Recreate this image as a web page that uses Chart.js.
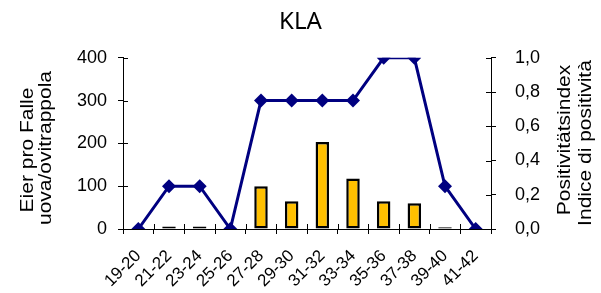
<!DOCTYPE html>
<html>
<head>
<meta charset="utf-8">
<script src="https://cdn.jsdelivr.net/npm/chart.js@4"></script>
<style>
  body { margin: 0; background: #fff; }
  #wrap { width: 601px; height: 293px; }
</style>
</head>
<body>
<div id="wrap"><canvas id="myChart"></canvas></div>
<script>
const categories = ['19-20', '21-22', '23-24', '25-26', '27-28', '29-30', '31-32', '33-34', '35-36', '37-38', '39-40', '41-42'];
const eggsPerTrap = [0, 6, 6, 0, 100, 65, 203, 118, 65, 60, 4, 0];
const positivityIndex = [0, 0.25, 0.25, 0, 0.75, 0.75, 0.75, 0.75, 1.0, 1.0, 0.25, 0];
const leftTicks = [0, 100, 200, 300, 400];
const rightTicks = [0, 0.2, 0.4, 0.6, 0.8, 1.0];
const leftTitle = ['Eier pro Falle', 'uova/ovitrappola'];
const rightTitle = ['Positivitätsindex', 'Indice di positività'];

const FONT = 'Liberation Sans, Arial, sans-serif';

// ticks that cross the axis lines (Chart.js only draws the outer half) + axis titles
const innerTicks = {
    id: 'innerTicks',
    afterDraw(chart) {
        const { ctx, chartArea } = chart;
        const x = chart.scales.x, y = chart.scales.y, y1 = chart.scales.y1;
        ctx.save();
        ctx.strokeStyle = '#000';
        ctx.lineWidth = 1;
        ctx.beginPath();
        for (let i = 0; i <= categories.length; i++) {
            const px = Math.round(x.getPixelForValue(i - 0.5)) + 0.5;
            ctx.moveTo(px, chartArea.bottom);
            ctx.lineTo(px, chartArea.bottom - 5);
        }
        leftTicks.forEach(v => {
            const py = Math.round(y.getPixelForValue(v)) + 0.5;
            ctx.moveTo(chartArea.left, py);
            ctx.lineTo(chartArea.left + 5, py);
        });
        rightTicks.forEach(v => {
            const py = Math.round(y1.getPixelForValue(v)) + 0.5;
            ctx.moveTo(chartArea.right, py);
            ctx.lineTo(chartArea.right - 5, py);
        });
        ctx.stroke();

        // axis titles, both reading bottom to top, slightly narrow like the original
        ctx.fillStyle = '#000';
        ctx.font = '21px ' + FONT;
        ctx.textAlign = 'center';
        ctx.textBaseline = 'middle';
        [[28, 150, leftTitle[0]], [46, 148, leftTitle[1]], [565, 140, rightTitle[0]], [586, 143, rightTitle[1]]].forEach(([tx, ty, t]) => {
            ctx.save();
            ctx.translate(tx, ty);
            ctx.rotate(-Math.PI / 2);
            ctx.scale(1, 0.88);
            ctx.fillText(t, 0, 0);
            ctx.restore();
        });
        ctx.restore();
    }
};

const ctx = document.getElementById('myChart').getContext('2d');
const myChart = new Chart(ctx, {
    type: 'bar',
    data: {
        labels: categories,
        datasets: [{
            type: 'line',
            label: 'Positivitätsindex',
            data: positivityIndex,
            yAxisID: 'y1',
            borderColor: '#000080',
            backgroundColor: '#000080',
            borderWidth: 3,
            pointStyle: 'rectRot',
            pointRadius: 7,
            pointBorderWidth: 0,
            tension: 0,
            order: 1
        }, {
            label: 'Eier pro Falle',
            data: eggsPerTrap,
            yAxisID: 'y',
            backgroundColor: '#FFC000',
            borderColor: '#000',
            borderWidth: 2.5,
            borderSkipped: false,
            inflateAmount: 0,
            categoryPercentage: 1,
            barPercentage: 0.44,
            order: 2
        }]
    },
    options: {
        responsive: true,
        maintainAspectRatio: false,
        animation: false,
        layout: { padding: 0 },
        plugins: {
            legend: { display: false },
            tooltip: { enabled: false },
            title: {
                display: true,
                text: 'KLA',
                color: '#000',
                font: { family: 'Noto Sans', size: 24, weight: 'normal', lineHeight: 1.2 },
                padding: { top: 8, bottom: 21 }
            }
        },
        scales: {
            x: {
                offset: true,
                grid: { display: true, drawOnChartArea: false, offset: true, tickLength: 5, color: '#000' },
                border: { display: true, color: '#000', width: 1 },
                ticks: {
                    color: '#000',
                    font: { family: FONT, size: 17 },
                    minRotation: 45,
                    maxRotation: 45,
                    padding: 12,
                    autoSkip: false
                },
                afterFit: s => { s.height = 64; }
            },
            y: {
                position: 'left',
                min: 0,
                max: 400,
                afterBuildTicks: s => { s.ticks = leftTicks.map(v => ({ value: v })); },
                grid: { display: true, drawOnChartArea: false, tickLength: 5, color: '#000' },
                border: { display: true, color: '#000', width: 1 },
                ticks: { color: '#000', font: { family: FONT, size: 18 }, padding: 11 },
                afterFit: s => { s.width = 123; }
            },
            y1: {
                position: 'right',
                min: 0,
                max: 1,
                afterBuildTicks: s => { s.ticks = rightTicks.map(v => ({ value: v })); },
                grid: { display: true, drawOnChartArea: false, tickLength: 5, color: '#000' },
                border: { display: true, color: '#000', width: 1 },
                ticks: {
                    color: '#000',
                    font: { family: FONT, size: 18 },
                    padding: 19,
                    callback: v => v.toFixed(1).replace('.', ',')
                },
                afterFit: s => { s.width = 110; }
            }
        }
    },
    plugins: [innerTicks]
});
</script>
</body>
</html>
